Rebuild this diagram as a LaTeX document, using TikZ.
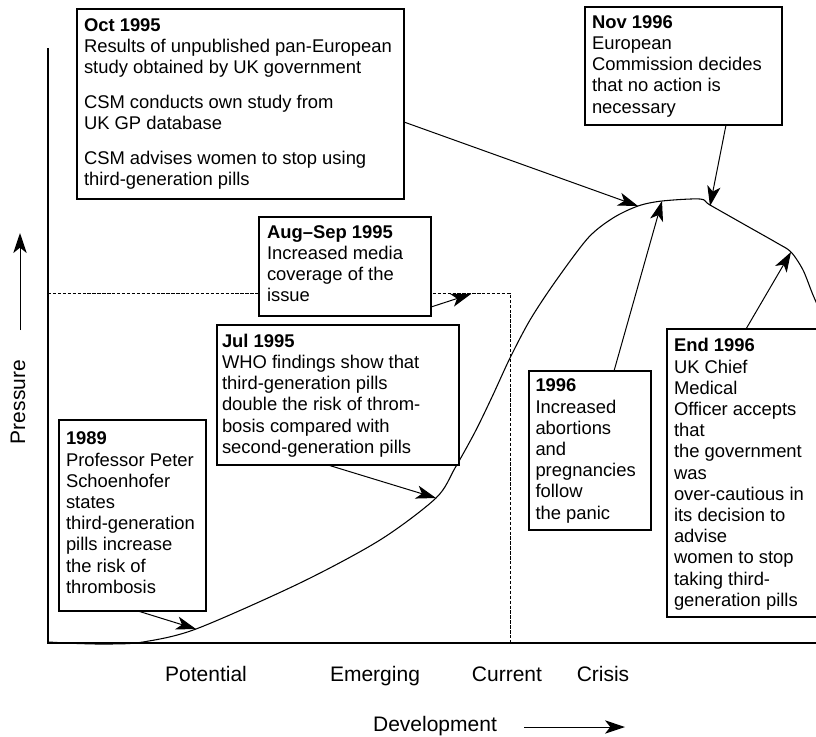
\documentclass[tikz,border=0pt]{standalone}
\usepackage{fontspec}
\setmainfont{Liberation Sans}
\usetikzlibrary{arrows.meta,calc,fit}

\begin{document}
\begin{tikzpicture}[x=0.75pt,y=-0.75pt,
  every node/.style={inner sep=0pt, outer sep=0pt},
  note/.style={draw, fill=white, line width=0.8pt, rectangle},
  notetext/.style={anchor=north west, align=left, font=\fontsize{13.8pt}{15.9pt}\selectfont},
  axislabel/.style={anchor=base, font=\fontsize{15.75pt}{18pt}\selectfont},
  arr/.style={line width=0.75pt, -{Stealth[length=15pt,width=10pt,inset=4pt]}},
  curveline/.style={line width=0.8pt},
  axisline/.style={line width=0.8pt},
  guide/.style={line width=0.6pt, dash pattern=on 2.5pt off 1.2pt}
]
\clip (0,0) rectangle (816,736);

% axes
\coordinate (origin) at (48,643);
\coordinate (ytop) at (48,48);
\coordinate (xend) at (830,643);
\draw[axisline] (ytop) -- (origin) -- (xend);

% dashed boundary of the early phases
\coordinate (g1) at (48,293);
\coordinate (g2) at (510,293);
\coordinate (g3) at (510,643);
\draw[guide] (g1) -- (g2) -- (g3);

% points on the pressure curve that the notes point at
\coordinate (t89)  at (196,629);
\coordinate (tJul) at (436,498);
\coordinate (tAug) at (471,294);
\coordinate (tOct) at (638,206);
\coordinate (t96)  at (662,201);
\coordinate (tNov) at (710,206);
\coordinate (tEnd) at (791,252);

% pressure curve
\draw[curveline] plot[smooth, tension=0.5] coordinates {
  (48,642) (78,643.5) (110,644) (143,642) (196,629) (300,583)
  (380,540) (436,498) (455,468) (475,432) (492,397) (510,358)
  (530,320) (555,282) (588,238) (613,218) (638,206) (662,201) (700,199)
  (710,205) (747,226) (777,243) (791,252) (803,270) (813,295) (825,322)};

% note boxes
\node[note, fit={(77,9) (404,199)}]   (bOct) {};
\node[note, fit={(585,7) (782,125)}]  (bNov) {};
\node[note, fit={(259,217) (431,316)}] (bAug) {};
\node[note, fit={(217,325) (459,465)}] (bJul) {};
\node[note, fit={(59,420) (206,611)}]  (b89) {};
\node[note, fit={(529,371) (651,530)}] (b96) {};
\node[note, fit={(667,329) (826,617)}] (bEnd) {};

% note texts
\node[notetext] (xOct) at (84,18.5) {\textbf{Oct 1995}\\
  Results of unpublished pan-European\\study obtained by UK government\\[10pt]
  CSM conducts own study from\\UK GP database\\[10pt]
  CSM advises women to stop using\\third-generation pills};
\node[notetext] (xNov) at (592,15.5) {\textbf{Nov 1996}\\European\\Commission decides\\that no action is\\necessary};
\node[notetext] (xAug) at (267,225.5) {\textbf{Aug--Sep 1995}\\Increased media\\coverage of the\\issue};
\node[notetext] (xJul) at (222,334) {\textbf{Jul 1995}\\WHO findings show that\\third-generation pills\\double the risk of throm-\\bosis compared with\\second-generation pills};
\node[notetext] (x89) at (66,432) {\textbf{1989}\\Professor Peter\\Schoenhofer\\states\\third-generation\\pills increase\\the risk of\\thrombosis};
\node[notetext] (x96) at (535.5,379) {\textbf{1996}\\Increased\\abortions\\and\\pregnancies\\follow\\the panic};
\node[notetext] (xEnd) at (674,338.5) {\textbf{End 1996}\\UK Chief\\Medical\\Officer accepts\\that\\the government\\was\\over-cautious in\\its decision to\\advise\\women to stop\\taking third-\\generation pills};

% connectors from the notes to the curve
\draw[arr] ($(b89.south)+(5.5,0)$) -- (t89);
\draw[arr] ($(bJul.south)+(-10,0)$) -- (tJul);
\draw[arr] ($(bAug.east)+(0,40.5)$) -- (tAug);
\draw[arr] ($(bOct.east)+(0,18)$) -- (tOct);
\draw[arr] ($(b96.north)+(24,0)$) -- (t96);
\draw[arr] ($(bNov.south)+(42.5,0)$) -- (tNov);
\draw[arr] ($(bEnd.north west)+(79,0)$) -- (tEnd);

% axis labels
\node[axislabel, rotate=90] (lPressure) at (25,402) {Pressure};
\coordinate (pa1) at (20,330);
\coordinate (pa2) at (20,233);
\draw[arr] (pa1) -- (pa2);

\node[axislabel] (lPot) at (206,681.5) {Potential};
\node[axislabel] (lEme) at (375,681.5) {Emerging};
\node[axislabel] (lCur) at (507,681.5) {Current};
\node[axislabel] (lCri) at (603,681.5) {Crisis};
\node[axislabel] (lDev) at (435,731) {Development};
\coordinate (da1) at (524,727);
\coordinate (da2) at (625,727);
\draw[arr] (da1) -- (da2);
\end{tikzpicture}
\end{document}
